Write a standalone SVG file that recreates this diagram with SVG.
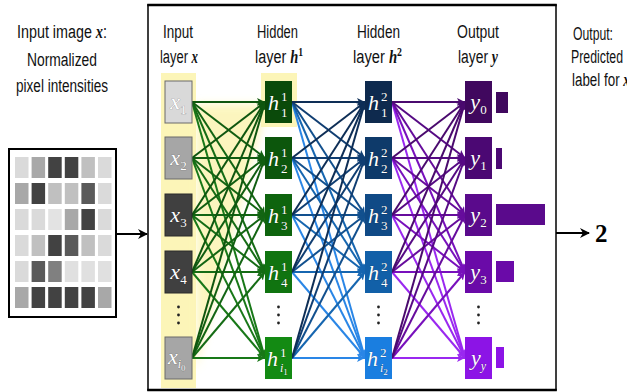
<svg xmlns="http://www.w3.org/2000/svg" width="627" height="392" viewBox="0 0 627 392">
<style>
.lbl{font-family:"Liberation Sans",Arial,sans-serif;font-size:18px;fill:#111}
.m{font-family:"Liberation Serif","Times New Roman",serif;font-style:italic;font-weight:bold}
.sup{font-family:"Liberation Serif","Times New Roman",serif;font-size:12px;font-weight:bold}
.nt{font-family:"Liberation Serif","Times New Roman",serif;font-style:italic;fill:#fff;stroke:rgba(0,0,0,0.35);stroke-width:0.7px;paint-order:stroke}
.big{font-size:22px}
.sub{font-size:13px;font-style:normal}
.subi{font-size:12px}
.ss{font-size:9px;font-style:normal}
.dot{fill:#222}
.yel{fill:#fcf5b8}
</style>
<defs>
<filter id="blur" x="-20%" y="-20%" width="140%" height="140%"><feGaussianBlur stdDeviation="4"/></filter>
<marker id="ak" markerUnits="userSpaceOnUse" markerWidth="10" markerHeight="10" refX="9" refY="5" orient="auto"><path d="M0,0 L10,5 L0,10 L3,5 z" fill="#000"/></marker>
<marker id="g1" markerUnits="userSpaceOnUse" markerWidth="8" markerHeight="8" refX="8" refY="4" orient="auto"><path d="M0,0 L8,4 L0,8 L2,4 z" fill="#0f560f"/></marker>
<marker id="g2" markerUnits="userSpaceOnUse" markerWidth="8" markerHeight="8" refX="8" refY="4" orient="auto"><path d="M0,0 L8,4 L0,8 L2,4 z" fill="#115e11"/></marker>
<marker id="g3" markerUnits="userSpaceOnUse" markerWidth="8" markerHeight="8" refX="8" refY="4" orient="auto"><path d="M0,0 L8,4 L0,8 L2,4 z" fill="#136513"/></marker>
<marker id="g4" markerUnits="userSpaceOnUse" markerWidth="8" markerHeight="8" refX="8" refY="4" orient="auto"><path d="M0,0 L8,4 L0,8 L2,4 z" fill="#156c15"/></marker>
<marker id="g5" markerUnits="userSpaceOnUse" markerWidth="8" markerHeight="8" refX="8" refY="4" orient="auto"><path d="M0,0 L8,4 L0,8 L2,4 z" fill="#187818"/></marker>
<marker id="b1" markerUnits="userSpaceOnUse" markerWidth="8" markerHeight="8" refX="8" refY="4" orient="auto"><path d="M0,0 L8,4 L0,8 L2,4 z" fill="#0e2e56"/></marker>
<marker id="b2" markerUnits="userSpaceOnUse" markerWidth="8" markerHeight="8" refX="8" refY="4" orient="auto"><path d="M0,0 L8,4 L0,8 L2,4 z" fill="#103e72"/></marker>
<marker id="b3" markerUnits="userSpaceOnUse" markerWidth="8" markerHeight="8" refX="8" refY="4" orient="auto"><path d="M0,0 L8,4 L0,8 L2,4 z" fill="#12508e"/></marker>
<marker id="b4" markerUnits="userSpaceOnUse" markerWidth="8" markerHeight="8" refX="8" refY="4" orient="auto"><path d="M0,0 L8,4 L0,8 L2,4 z" fill="#1666b0"/></marker>
<marker id="b5" markerUnits="userSpaceOnUse" markerWidth="8" markerHeight="8" refX="8" refY="4" orient="auto"><path d="M0,0 L8,4 L0,8 L2,4 z" fill="#2a86e6"/></marker>
<marker id="p1" markerUnits="userSpaceOnUse" markerWidth="8" markerHeight="8" refX="8" refY="4" orient="auto"><path d="M0,0 L8,4 L0,8 L2,4 z" fill="#4a0a6e"/></marker>
<marker id="p2" markerUnits="userSpaceOnUse" markerWidth="8" markerHeight="8" refX="8" refY="4" orient="auto"><path d="M0,0 L8,4 L0,8 L2,4 z" fill="#560a84"/></marker>
<marker id="p3" markerUnits="userSpaceOnUse" markerWidth="8" markerHeight="8" refX="8" refY="4" orient="auto"><path d="M0,0 L8,4 L0,8 L2,4 z" fill="#660c9c"/></marker>
<marker id="p4" markerUnits="userSpaceOnUse" markerWidth="8" markerHeight="8" refX="8" refY="4" orient="auto"><path d="M0,0 L8,4 L0,8 L2,4 z" fill="#7810bc"/></marker>
<marker id="p5" markerUnits="userSpaceOnUse" markerWidth="8" markerHeight="8" refX="8" refY="4" orient="auto"><path d="M0,0 L8,4 L0,8 L2,4 z" fill="#9a28f0"/></marker>
</defs>
<rect width="627" height="392" fill="#fff"/>

<!-- left labels -->
<g id="input-label">
<text class="lbl" x="17" y="38" textLength="90" lengthAdjust="spacingAndGlyphs">Input image <tspan class="m">x</tspan>:</text>
<text class="lbl" x="27" y="66" textLength="70" lengthAdjust="spacingAndGlyphs">Normalized</text>
<text class="lbl" x="16" y="92" textLength="92" lengthAdjust="spacingAndGlyphs">pixel intensities</text>
</g>

<!-- input image -->
<g id="input-image">
<rect x="9" y="149" width="107" height="168" fill="#fff" stroke="#000" stroke-width="2"/>
<g>
<rect x="15" y="157" width="13.5" height="21" fill="#dadada"/><rect x="31.6" y="157" width="13.5" height="21" fill="#a8a8a8"/><rect x="48.2" y="157" width="13.5" height="21" fill="#424242"/><rect x="64.8" y="157" width="13.5" height="21" fill="#424242"/><rect x="81.4" y="157" width="13.5" height="21" fill="#c0c0c0"/><rect x="98" y="157" width="13.5" height="21" fill="#dadada"/>
<rect x="15" y="183" width="13.5" height="21" fill="#a8a8a8"/><rect x="31.6" y="183" width="13.5" height="21" fill="#424242"/><rect x="48.2" y="183" width="13.5" height="21" fill="#c0c0c0"/><rect x="64.8" y="183" width="13.5" height="21" fill="#c0c0c0"/><rect x="81.4" y="183" width="13.5" height="21" fill="#5a5a5a"/><rect x="98" y="183" width="13.5" height="21" fill="#dadada"/>
<rect x="15" y="209" width="13.5" height="21" fill="#dadada"/><rect x="31.6" y="209" width="13.5" height="21" fill="#dadada"/><rect x="48.2" y="209" width="13.5" height="21" fill="#e3e3e3"/><rect x="64.8" y="209" width="13.5" height="21" fill="#a8a8a8"/><rect x="81.4" y="209" width="13.5" height="21" fill="#424242"/><rect x="98" y="209" width="13.5" height="21" fill="#dadada"/>
<rect x="15" y="235" width="13.5" height="21" fill="#dadada"/><rect x="31.6" y="235" width="13.5" height="21" fill="#c0c0c0"/><rect x="48.2" y="235" width="13.5" height="21" fill="#424242"/><rect x="64.8" y="235" width="13.5" height="21" fill="#5a5a5a"/><rect x="81.4" y="235" width="13.5" height="21" fill="#c0c0c0"/><rect x="98" y="235" width="13.5" height="21" fill="#dadada"/>
<rect x="15" y="261" width="13.5" height="21" fill="#dadada"/><rect x="31.6" y="261" width="13.5" height="21" fill="#5a5a5a"/><rect x="48.2" y="261" width="13.5" height="21" fill="#808080"/><rect x="64.8" y="261" width="13.5" height="21" fill="#e0e0e0"/><rect x="81.4" y="261" width="13.5" height="21" fill="#e0e0e0"/><rect x="98" y="261" width="13.5" height="21" fill="#e0e0e0"/>
<rect x="15" y="287" width="13.5" height="21" fill="#a8a8a8"/><rect x="31.6" y="287" width="13.5" height="21" fill="#424242"/><rect x="48.2" y="287" width="13.5" height="21" fill="#424242"/><rect x="64.8" y="287" width="13.5" height="21" fill="#424242"/><rect x="81.4" y="287" width="13.5" height="21" fill="#424242"/><rect x="98" y="287" width="13.5" height="21" fill="#a8a8a8"/>
</g>
</g>

<!-- main frame -->
<g id="network-frame">
<rect x="148" y="5" width="408" height="385" fill="none" stroke="#000" stroke-width="1.5"/>
<line x1="147.25" y1="5" x2="556.75" y2="5" stroke="#000" stroke-width="2.5"/>
<line x1="147.25" y1="390" x2="556.75" y2="390" stroke="#000" stroke-width="2.5"/>
</g>

<!-- highlight -->
<g id="highlight">
<rect class="yel" x="161" y="73" width="35" height="315"/>
<rect class="yel" x="261" y="73" width="36" height="54"/>
<polygon class="yel" points="196,104 262,104 262,124 196,370" filter="url(#blur)" opacity="0.9"/>
</g>

<!-- column labels -->
<g id="layer-labels">
<text class="lbl" x="163" y="38" textLength="30" lengthAdjust="spacingAndGlyphs">Input</text>
<text class="lbl" x="160" y="63" textLength="38" lengthAdjust="spacingAndGlyphs">layer <tspan class="m">x</tspan></text>
<text class="lbl" x="257" y="38" textLength="41" lengthAdjust="spacingAndGlyphs">Hidden</text>
<text class="lbl" x="255" y="63" textLength="48" lengthAdjust="spacingAndGlyphs">layer <tspan class="m">h</tspan><tspan class="sup" dy="-7">1</tspan></text>
<text class="lbl" x="357" y="38" textLength="43" lengthAdjust="spacingAndGlyphs">Hidden</text>
<text class="lbl" x="353" y="63" textLength="49" lengthAdjust="spacingAndGlyphs">layer <tspan class="m">h</tspan><tspan class="sup" dy="-7">2</tspan></text>
<text class="lbl" x="457" y="38" textLength="42" lengthAdjust="spacingAndGlyphs">Output</text>
<text class="lbl" x="458" y="63" textLength="40" lengthAdjust="spacingAndGlyphs">layer <tspan class="m">y</tspan></text>
</g>

<!-- connectors -->
<g id="connectors" fill="none" stroke-width="2">
<line x1="116" y1="234" x2="147" y2="234" stroke="#000" marker-end="url(#ak)"/>
<line x1="556" y1="233" x2="589" y2="233" stroke="#000" marker-end="url(#ak)"/>
<g stroke="#187818" marker-end="url(#g5)"><line x1="192" y1="102" x2="265" y2="358"/><line x1="192" y1="158" x2="265" y2="358"/><line x1="192" y1="215" x2="265" y2="358"/><line x1="192" y1="272" x2="265" y2="358"/><line x1="192" y1="358" x2="265" y2="358"/></g>
<g stroke="#156c15" marker-end="url(#g4)"><line x1="192" y1="102" x2="265" y2="272"/><line x1="192" y1="158" x2="265" y2="272"/><line x1="192" y1="215" x2="265" y2="272"/><line x1="192" y1="272" x2="265" y2="272"/><line x1="192" y1="358" x2="265" y2="272"/></g>
<g stroke="#136513" marker-end="url(#g3)"><line x1="192" y1="102" x2="265" y2="215"/><line x1="192" y1="158" x2="265" y2="215"/><line x1="192" y1="215" x2="265" y2="215"/><line x1="192" y1="272" x2="265" y2="215"/><line x1="192" y1="358" x2="265" y2="215"/></g>
<g stroke="#115e11" marker-end="url(#g2)"><line x1="192" y1="102" x2="265" y2="158"/><line x1="192" y1="158" x2="265" y2="158"/><line x1="192" y1="215" x2="265" y2="158"/><line x1="192" y1="272" x2="265" y2="158"/><line x1="192" y1="358" x2="265" y2="158"/></g>
<g stroke="#0f560f" marker-end="url(#g1)"><line x1="192" y1="102" x2="265" y2="102"/><line x1="192" y1="158" x2="265" y2="102"/><line x1="192" y1="215" x2="265" y2="102"/><line x1="192" y1="272" x2="265" y2="102"/><line x1="192" y1="358" x2="265" y2="102"/></g>

<g stroke="#2a86e6" marker-end="url(#b5)"><line x1="292" y1="102" x2="365" y2="358"/><line x1="292" y1="158" x2="365" y2="358"/><line x1="292" y1="215" x2="365" y2="358"/><line x1="292" y1="272" x2="365" y2="358"/><line x1="292" y1="358" x2="365" y2="358"/></g>
<g stroke="#1666b0" marker-end="url(#b4)"><line x1="292" y1="102" x2="365" y2="272"/><line x1="292" y1="158" x2="365" y2="272"/><line x1="292" y1="215" x2="365" y2="272"/><line x1="292" y1="272" x2="365" y2="272"/><line x1="292" y1="358" x2="365" y2="272"/></g>
<g stroke="#12508e" marker-end="url(#b3)"><line x1="292" y1="102" x2="365" y2="215"/><line x1="292" y1="158" x2="365" y2="215"/><line x1="292" y1="215" x2="365" y2="215"/><line x1="292" y1="272" x2="365" y2="215"/><line x1="292" y1="358" x2="365" y2="215"/></g>
<g stroke="#103e72" marker-end="url(#b2)"><line x1="292" y1="102" x2="365" y2="158"/><line x1="292" y1="158" x2="365" y2="158"/><line x1="292" y1="215" x2="365" y2="158"/><line x1="292" y1="272" x2="365" y2="158"/><line x1="292" y1="358" x2="365" y2="158"/></g>
<g stroke="#0e2e56" marker-end="url(#b1)"><line x1="292" y1="102" x2="365" y2="102"/><line x1="292" y1="158" x2="365" y2="102"/><line x1="292" y1="215" x2="365" y2="102"/><line x1="292" y1="272" x2="365" y2="102"/><line x1="292" y1="358" x2="365" y2="102"/></g>

<g stroke="#9a28f0" marker-end="url(#p5)"><line x1="392" y1="102" x2="465" y2="358"/><line x1="392" y1="158" x2="465" y2="358"/><line x1="392" y1="215" x2="465" y2="358"/><line x1="392" y1="272" x2="465" y2="358"/><line x1="392" y1="358" x2="465" y2="358"/></g>
<g stroke="#7810bc" marker-end="url(#p4)"><line x1="392" y1="102" x2="465" y2="272"/><line x1="392" y1="158" x2="465" y2="272"/><line x1="392" y1="215" x2="465" y2="272"/><line x1="392" y1="272" x2="465" y2="272"/><line x1="392" y1="358" x2="465" y2="272"/></g>
<g stroke="#660c9c" marker-end="url(#p3)"><line x1="392" y1="102" x2="465" y2="215"/><line x1="392" y1="158" x2="465" y2="215"/><line x1="392" y1="215" x2="465" y2="215"/><line x1="392" y1="272" x2="465" y2="215"/><line x1="392" y1="358" x2="465" y2="215"/></g>
<g stroke="#560a84" marker-end="url(#p2)"><line x1="392" y1="102" x2="465" y2="158"/><line x1="392" y1="158" x2="465" y2="158"/><line x1="392" y1="215" x2="465" y2="158"/><line x1="392" y1="272" x2="465" y2="158"/><line x1="392" y1="358" x2="465" y2="158"/></g>
<g stroke="#4a0a6e" marker-end="url(#p1)"><line x1="392" y1="102" x2="465" y2="102"/><line x1="392" y1="158" x2="465" y2="102"/><line x1="392" y1="215" x2="465" y2="102"/><line x1="392" y1="272" x2="465" y2="102"/><line x1="392" y1="358" x2="465" y2="102"/></g>
</g>

<!-- input nodes -->
<g id="x1"><rect x="165" y="81" width="27" height="42" fill="#d9d9d9" stroke="#6a6a6a" stroke-width="1"/><text class="nt big" x="178.5" y="109" text-anchor="middle">x<tspan class="sub" dy="5">1</tspan></text></g>
<g id="x2"><rect x="165" y="137" width="27" height="42" fill="#a6a6a6" stroke="#6a6a6a" stroke-width="1"/><text class="nt big" x="178.5" y="165" text-anchor="middle">x<tspan class="sub" dy="5">2</tspan></text></g>
<g id="x3"><rect x="165" y="194" width="27" height="42" fill="#404040" stroke="#2a2a2a" stroke-width="1"/><text class="nt big" x="178.5" y="222" text-anchor="middle">x<tspan class="sub" dy="5">3</tspan></text></g>
<g id="x4"><rect x="165" y="251" width="27" height="42" fill="#404040" stroke="#2a2a2a" stroke-width="1"/><text class="nt big" x="178.5" y="279" text-anchor="middle">x<tspan class="sub" dy="5">4</tspan></text></g>
<g id="x-dots"><circle class="dot" cx="178.5" cy="307" r="1.4"/><circle class="dot" cx="178.5" cy="315" r="1.4"/><circle class="dot" cx="178.5" cy="323" r="1.4"/></g>
<g id="xi0"><rect x="165" y="337" width="27" height="42" fill="#a6a6a6" stroke="#6a6a6a" stroke-width="1"/><text class="nt big" x="168" y="364">x<tspan class="subi" dy="4">i</tspan><tspan class="ss" dy="3">0</tspan></text></g>

<!-- hidden layer 1 -->
<g id="h1-1"><rect x="265" y="81" width="27" height="42" fill="#0a4a0a"/><text class="nt big" x="268" y="110">h</text><text class="nt sub" x="281" y="101">1</text><text class="nt sub" x="281" y="117">1</text></g>
<g id="h1-2"><rect x="265" y="137" width="27" height="42" fill="#0c560c"/><text class="nt big" x="268" y="166">h</text><text class="nt sub" x="281" y="157">1</text><text class="nt sub" x="281" y="173">2</text></g>
<g id="h1-3"><rect x="265" y="194" width="27" height="42" fill="#0e640e"/><text class="nt big" x="268" y="223">h</text><text class="nt sub" x="281" y="214">1</text><text class="nt sub" x="281" y="230">3</text></g>
<g id="h1-4"><rect x="265" y="251" width="27" height="42" fill="#107410"/><text class="nt big" x="268" y="280">h</text><text class="nt sub" x="281" y="271">1</text><text class="nt sub" x="281" y="287">4</text></g>
<g id="h1-dots"><circle class="dot" cx="278.5" cy="307" r="1.4"/><circle class="dot" cx="278.5" cy="315" r="1.4"/><circle class="dot" cx="278.5" cy="323" r="1.4"/></g>
<g id="h1-i1"><rect x="265" y="337" width="27" height="42" fill="#138a13"/><text class="nt big" x="267" y="366">h</text><text class="nt sub" x="280" y="357">1</text><text class="nt subi" x="280" y="372">i<tspan class="ss" dy="3">1</tspan></text></g>

<!-- hidden layer 2 -->
<g id="h2-1"><rect x="365" y="81" width="27" height="42" fill="#0e2a4e"/><text class="nt big" x="368" y="110">h</text><text class="nt sub" x="381" y="101">2</text><text class="nt sub" x="381" y="117">1</text></g>
<g id="h2-2"><rect x="365" y="137" width="27" height="42" fill="#0e3a6a"/><text class="nt big" x="368" y="166">h</text><text class="nt sub" x="381" y="157">2</text><text class="nt sub" x="381" y="173">2</text></g>
<g id="h2-3"><rect x="365" y="194" width="27" height="42" fill="#104a86"/><text class="nt big" x="368" y="223">h</text><text class="nt sub" x="381" y="214">2</text><text class="nt sub" x="381" y="230">3</text></g>
<g id="h2-4"><rect x="365" y="251" width="27" height="42" fill="#1260a8"/><text class="nt big" x="368" y="280">h</text><text class="nt sub" x="381" y="271">2</text><text class="nt sub" x="381" y="287">4</text></g>
<g id="h2-dots"><circle class="dot" cx="378.5" cy="307" r="1.4"/><circle class="dot" cx="378.5" cy="315" r="1.4"/><circle class="dot" cx="378.5" cy="323" r="1.4"/></g>
<g id="h2-i2"><rect x="365" y="337" width="27" height="42" fill="#1a7ee0"/><text class="nt big" x="367" y="366">h</text><text class="nt sub" x="380" y="357">2</text><text class="nt subi" x="380" y="372">i<tspan class="ss" dy="3">2</tspan></text></g>

<!-- output layer -->
<g id="y0"><rect x="465" y="81" width="27" height="42" fill="#40085e"/><text class="nt big" x="478.5" y="109" text-anchor="middle">y<tspan class="sub" dy="5">0</tspan></text><rect x="496" y="92" width="12" height="21" fill="#40085e"/></g>
<g id="y1"><rect x="465" y="137" width="27" height="42" fill="#4b0873"/><text class="nt big" x="478.5" y="165" text-anchor="middle">y<tspan class="sub" dy="5">1</tspan></text><rect x="496" y="148" width="6" height="21" fill="#4b0873"/></g>
<g id="y2"><rect x="465" y="194" width="27" height="42" fill="#5a0a8c"/><text class="nt big" x="478.5" y="222" text-anchor="middle">y<tspan class="sub" dy="5">2</tspan></text><rect x="496" y="204" width="49" height="21" fill="#5a0a8c"/></g>
<g id="y3"><rect x="465" y="251" width="27" height="42" fill="#6a0aa8"/><text class="nt big" x="478.5" y="279" text-anchor="middle">y<tspan class="sub" dy="5">3</tspan></text><rect x="496" y="261" width="18" height="21" fill="#6a0aa8"/></g>
<g id="y-dots"><circle class="dot" cx="478.5" cy="307" r="1.4"/><circle class="dot" cx="478.5" cy="315" r="1.4"/><circle class="dot" cx="478.5" cy="323" r="1.4"/></g>
<g id="yy"><rect x="465" y="337" width="27" height="42" fill="#8c14e6"/><text class="nt big" x="478.5" y="365" text-anchor="middle">y<tspan class="subi" dy="5">y</tspan></text><rect x="496" y="347" width="8" height="21" fill="#8c14e6"/></g>

<!-- output label -->
<g id="output-label">
<text class="lbl" x="573" y="40" textLength="40" lengthAdjust="spacingAndGlyphs">Output:</text>
<text class="lbl" x="571" y="63" textLength="52" lengthAdjust="spacingAndGlyphs">Predicted</text>
<text class="lbl" x="572" y="86" textLength="58" lengthAdjust="spacingAndGlyphs">label for <tspan class="m">x</tspan></text>
<text x="595" y="242" font-family="Liberation Serif, serif" font-weight="bold" font-size="25" fill="#000">2</text>
</g>
</svg>
